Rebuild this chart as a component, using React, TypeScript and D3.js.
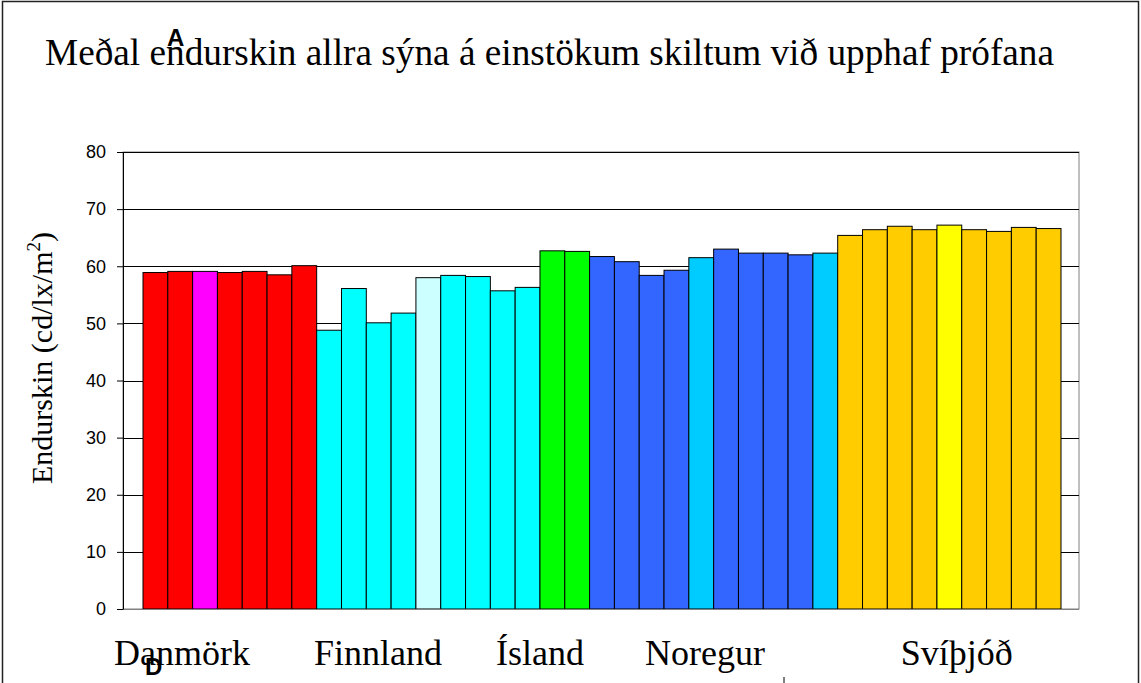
import * as d3 from "d3";
import { useRef, useEffect } from "react";

// gildi lesin af myndinni
const countries = ["Danmörk", "Finnland", "Ísland", "Noregur", "Svíþjóð"];
const danmork = [58.9, 59.1, 59.1, 58.9, 59.1, 58.5, 60.1];
const finnland = [48.8, 56.1, 50.1, 51.8, 58.0, 58.4, 58.2, 55.7, 56.3];
const island = [62.7, 62.6];
const noregur = [61.7, 60.8, 58.4, 59.3, 61.5, 63.0, 62.3, 62.3, 62.0, 62.3];
const svithjod = [65.4, 66.4, 67.0, 66.4, 67.2, 66.4, 66.1, 66.8, 66.6];
const yTicks = [0, 10, 20, 30, 40, 50, 60, 70, 80];

const title = "Meðal endurskin allra sýna á einstökum skiltum við upphaf prófana";

// litir
const colDk = ["#FF0000", "#FF0000", "#FF00FF", "#FF0000", "#FF0000", "#FF0000", "#FF0000"];
const colFi = ["#00FFFF", "#00FFFF", "#00FFFF", "#00FFFF", "#CCFFFF", "#00FFFF", "#00FFFF", "#00FFFF", "#00FFFF"];
const colIs = ["#00FF00", "#00FF00"];
const colNo = ["#3366FF", "#3366FF", "#3366FF", "#3366FF", "#00CCFF", "#3366FF", "#3366FF", "#3366FF", "#3366FF", "#00CCFF"];
const colSe = ["#FFCC00", "#FFCC00", "#FFCC00", "#FFCC00", "#FFFF00", "#FFCC00", "#FFCC00", "#FFCC00", "#FFCC00"];

// miðja landsheita í einingum súlna (textareitir eru ekki miðjaðir á hópana)
const labelAt = [1.57, 9.47, 16.0, 22.65, 32.8];

const W = 1141;
const H = 683;
const margin = { top: 152, bottom: 74, left: 123, right: 62 };
const serif = "Liberation Serif, DejaVu Serif, Times New Roman, serif";
const sans = "Liberation Sans, Arial, sans-serif";

const App = () => {
  const axisRef = useRef(null);

  const series = [danmork, finnland, island, noregur, svithjod];
  const colors = [colDk, colFi, colIs, colNo, colSe];
  const bars = series.flatMap((vals, g) =>
    vals.map((v, i) => ({ id: `${g}-${i}`, value: v, color: colors[g][i] }))
  );

  const plotLeft = margin.left;
  const plotRight = W - margin.right;
  const plotTop = margin.top;
  const plotBottom = H - margin.bottom;

  const x = d3
    .scaleBand()
    .domain(bars.map(d => d.id))
    .range([plotLeft + 20, plotRight - 18])
    .padding(0);

  const y = d3.scaleLinear().domain([0, 80]).range([plotBottom, plotTop]);

  const xIdx = d3
    .scaleLinear()
    .domain([0, bars.length])
    .range([plotLeft + 20, plotRight - 18]);

  useEffect(() => {
    if (!axisRef.current) return;
    const g = d3.select(axisRef.current);
    g.selectAll("*").remove();
    g.call(d3.axisLeft(y).tickValues(yTicks).tickSize(6).tickPadding(11).tickSizeOuter(0));
    g.select(".domain").attr("stroke", "#000");
    g.selectAll(".tick line").attr("stroke", "#000");
    g.selectAll(".tick text")
      .attr("font-family", sans)
      .attr("font-size", 18)
      .attr("fill", "#000");
  });

  return (
    <svg
      width={W}
      height={H}
      style={{ position: "absolute", left: 0, top: 0, background: "#fff" }}
    >
      <rect x={2.5} y={1.5} width={W - 5} height={H + 20} fill="#fff" stroke="#222" strokeWidth={1.5} />

      <text
        x={45}
        y={65}
        fontFamily={serif}
        fontSize={37}
        textLength={1009}
        lengthAdjust="spacingAndGlyphs"
        fill="#000"
      >
        {title}
      </text>

      {/* rammi teiknisvæðis */}
      <rect
        x={plotLeft}
        y={plotTop}
        width={plotRight - plotLeft}
        height={plotBottom - plotTop}
        fill="#fff"
        stroke="#808080"
        strokeWidth={1}
      />

      {/* hnitalínur */}
      {yTicks.filter(t => t > 0).map(t => (
        <line
          key={t}
          x1={plotLeft}
          x2={plotRight}
          y1={Math.round(y(t)) + 0.5}
          y2={Math.round(y(t)) + 0.5}
          stroke="#000"
          strokeWidth={1}
        />
      ))}

      {/* súlur */}
      {bars.map(d => (
        <rect
          key={d.id}
          x={x(d.id)}
          y={y(d.value)}
          width={x.bandwidth()}
          height={plotBottom - y(d.value)}
          fill={d.color}
          stroke="#000"
          strokeWidth={1}
        />
      ))}

      <line x1={plotLeft} x2={plotRight} y1={plotBottom + 0.5} y2={plotBottom + 0.5} stroke="#808080" />

      <g ref={axisRef} transform={`translate(${plotLeft},0)`} />

      <text
        transform={`translate(52,358) rotate(-90)`}
        textAnchor="middle"
        fontFamily={serif}
        fontSize={30}
        fill="#000"
      >
        Endurskin (cd/lx/m
        <tspan dy={-12} fontSize={19}>2</tspan>
        <tspan dy={12}>)</tspan>
      </text>

      {countries.map((c, i) => (
        <text
          key={c}
          x={xIdx(labelAt[i])}
          y={665}
          textAnchor="middle"
          fontFamily={serif}
          fontSize={36}
          fill="#000"
        >
          {c}
        </text>
      ))}

      <text x={167} y={46} fontFamily={sans} fontWeight="bold" fontSize={24} fill="#000">
        A
      </text>
      <text x={145} y={675} fontFamily={sans} fontWeight="bold" fontSize={24} fill="#000">
        D
      </text>
      <line x1={784} x2={784} y1={677} y2={683} stroke="#000" strokeWidth={1} />
    </svg>
  );
};

export default App;
